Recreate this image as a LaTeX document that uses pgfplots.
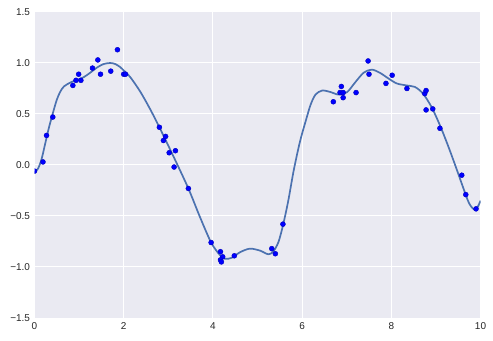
\documentclass[border=0pt]{standalone}
\usepackage{pgfplots}
\pgfplotsset{compat=1.18}
\usepackage{fontspec}
\setmainfont{Liberation Sans}
\definecolor{sbbg}{HTML}{EAEAF2}
\definecolor{sbblue}{HTML}{4C72B0}
\definecolor{txt}{HTML}{262626}
\begin{document}
\begin{tikzpicture}
\useasboundingbox (-34.5bp,-23bp) rectangle (458.5bp,318bp);
\begin{axis}[
  scale only axis,
  width=446bp, height=306bp,
  xmin=0, xmax=10, ymin=-1.5, ymax=1.5,
  axis background/.style={fill=sbbg},
  axis line style={draw=none},
  tick style={draw=none},
  grid=major,
  major grid style={white, line width=1bp},
  clip marker paths=true,
  xtick={0,2,4,6,8,10},
  xticklabels={0,2,4,6,8,10},
  ytick={-1.5,-1,-0.5,0,0.5,1,1.5},
  yticklabels={−1.5,−1.0,−0.5,0.0,0.5,1.0,1.5},
  ticklabel style={font=\fontsize{10}{12}\selectfont, text=txt},
  xticklabel style={yshift=-1bp},
  yticklabel style={xshift=-1bp},
]
\addplot[sbblue, line width=1.7bp, smooth, tension=0.5] coordinates {
(0,-0.075) (0.08,-0.035) (0.16,0.06) (0.24,0.21) (0.32,0.36) (0.40,0.49)
(0.50,0.64) (0.58,0.72) (0.66,0.77) (0.81,0.81) (0.96,0.835) (1.10,0.86)
(1.25,0.905) (1.40,0.955) (1.55,0.99) (1.70,1.00) (1.81,0.99) (1.92,0.96)
(2.04,0.91) (2.15,0.86) (2.37,0.72) (2.59,0.55) (2.80,0.37) (3.12,0.08)
(3.45,-0.23) (3.71,-0.51) (3.96,-0.76) (4.16,-0.885) (4.27,-0.92) (4.42,-0.91)
(4.61,-0.855) (4.83,-0.82) (5.06,-0.84) (5.24,-0.875) (5.35,-0.85) (5.47,-0.755)
(5.58,-0.575) (5.69,-0.35) (5.80,-0.08) (5.89,0.11) (5.97,0.26) (6.08,0.43)
(6.19,0.59) (6.30,0.69) (6.45,0.73) (6.64,0.715) (6.82,0.69) (7.01,0.715)
(7.19,0.81) (7.38,0.905) (7.56,0.935) (7.74,0.905) (7.93,0.85) (8.12,0.80)
(8.34,0.78) (8.53,0.765) (8.71,0.70) (8.90,0.57) (9.09,0.39) (9.28,0.18)
(9.46,-0.035) (9.61,-0.22) (9.75,-0.38) (9.89,-0.44) (10.0,-0.35)
};
\addplot[only marks, mark=*, mark size=2.5bp, mark options={fill=blue, draw=blue!75!black, line width=0.4bp}] coordinates {
(0.0,-0.06) (0.19,0.03) (0.27,0.29) (0.41,0.47) (0.86,0.78) (0.93,0.83)
(0.99,0.89) (1.04,0.83) (1.30,0.95) (1.42,1.03) (1.48,0.89) (1.71,0.92)
(1.86,1.13) (2.00,0.89) (2.04,0.89) (2.80,0.37) (2.94,0.28) (2.89,0.24)
(3.02,0.12) (3.16,0.14) (3.13,-0.02) (3.45,-0.23) (3.96,-0.76) (4.17,-0.85)
(4.22,-0.90) (4.17,-0.93) (4.19,-0.95) (4.48,-0.89) (5.32,-0.82) (5.40,-0.87)
(5.57,-0.58) (6.70,0.62) (6.88,0.77) (6.85,0.71) (6.92,0.71) (6.92,0.66)
(7.21,0.71) (7.48,1.02) (7.50,0.89) (7.88,0.80) (8.02,0.88) (8.35,0.75)
(8.75,0.70) (8.78,0.73) (8.78,0.54) (8.93,0.55) (9.09,0.36) (9.58,-0.10)
(9.67,-0.29) (9.90,-0.43)
};
\end{axis}
\end{tikzpicture}
\end{document}
